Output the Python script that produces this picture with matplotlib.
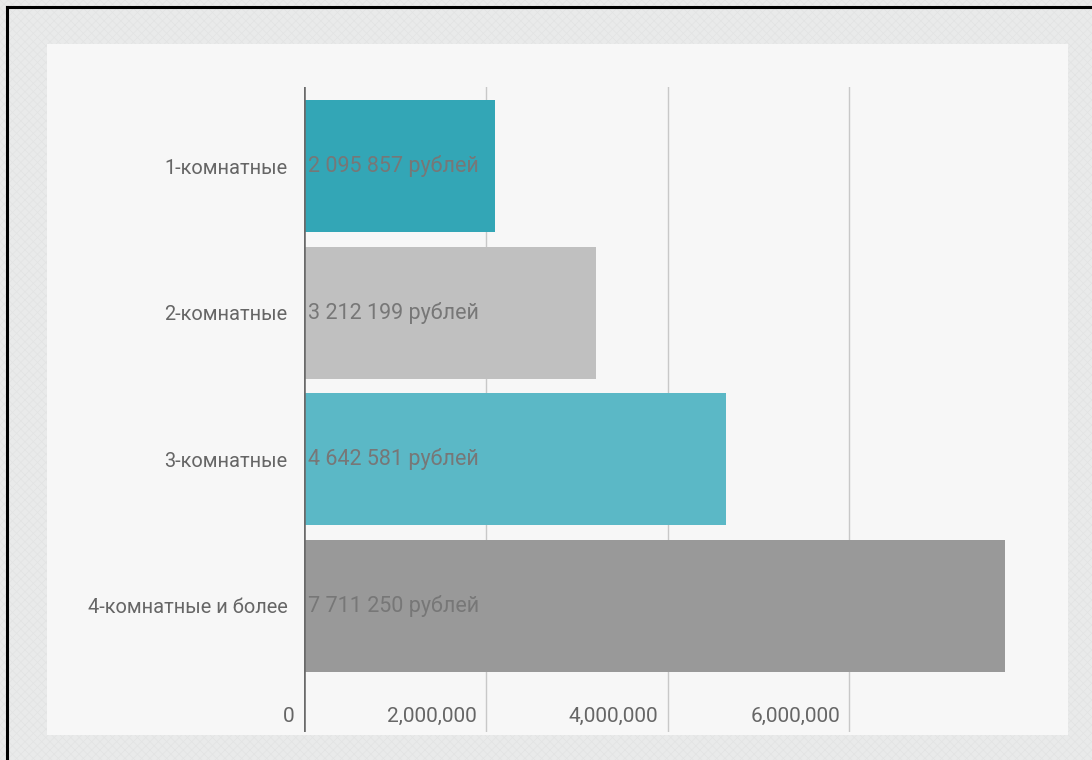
import matplotlib.pyplot as plt
from matplotlib.patches import Rectangle
from matplotlib.lines import Line2D

# Data
categories = ["1-комнатные", "2-комнатные", "3-комнатные", "4-комнатные и более"]
values = [2095857, 3212199, 4642581, 7711250]
value_labels = ["2 095 857 рублей", "3 212 199 рублей", "4 642 581 рублей", "7 711 250 рублей"]
bar_colors = ["#33a6b6", "#c0c0c0", "#5bb8c6", "#999999"]
x_ticks = [0, 2000000, 4000000, 6000000]
x_tick_labels = ["0", "2,000,000", "4,000,000", "6,000,000"]

W, H = 1092, 760
font = ["Roboto", "DejaVu Sans"]
plt.rcParams["font.family"] = font
plt.rcParams["hatch.linewidth"] = 0.5

fig = plt.figure(figsize=(W / 100, H / 100), dpi=100)
fig.patch.set_facecolor("#e9eaea")

# textured outer background + light panel
fig.add_artist(Rectangle((0, 0), 1, 1, transform=fig.transFigure,
                         facecolor="#e9eaea", edgecolor="#e2e3e3", hatch="xxxx", lw=0, zorder=-3))
fig.add_artist(Rectangle((47 / W, (H - 735) / H), (1068 - 47) / W, (735 - 44) / H,
                         transform=fig.transFigure, facecolor="#f7f7f7", lw=0, zorder=-2))
# black frame on top and left
fig.add_artist(Line2D([7 / W, 1], [1 - 7 / H, 1 - 7 / H], transform=fig.transFigure, color="black", lw=2.2))
fig.add_artist(Line2D([7 / W, 7 / W], [0, 1 - 7 / H], transform=fig.transFigure, color="black", lw=2.2))

left, right, top, bottom = 304, 1005, 87, 732
ax = fig.add_axes([left / W, (H - bottom) / H, (right - left) / W, (bottom - top) / H])
ax.set_facecolor("none")
for s in ax.spines.values():
    s.set_visible(False)

ypos = list(range(len(categories)))
ax.barh(ypos, values, height=0.9, color=bar_colors, zorder=2)
ax.set_xlim(0, values[-1])
ax.set_ylim(3.86, -0.54)

# grid lines
for v in x_ticks[1:]:
    ax.axvline(v, color="#c8c8c8", lw=1, zorder=1)
ax.axvline(0, color="#6a6a6a", lw=2.6, zorder=3)

# category labels
ax.set_yticks(ypos)
ax.set_yticklabels(categories, fontsize=14.4, color="#666666")
ax.tick_params(axis="y", length=0, pad=12)
ax.set_xticks([])

# value labels inside bars
for y, lbl in zip(ypos, value_labels):
    ax.annotate(lbl, xy=(0, y), xytext=(4, 0), textcoords="offset pixels",
                ha="left", va="center", fontsize=15.5, color="#777777", zorder=4)

# x tick labels placed just left of each gridline
for v, lbl in zip(x_ticks, x_tick_labels):
    ax.annotate(lbl, xy=(v, 0), xycoords=("data", "axes fraction"), xytext=(-9, 16),
                textcoords="offset pixels", ha="right", va="center", fontsize=15, color="#666666")

fig.savefig("out.png", dpi=100, facecolor=fig.get_facecolor())
